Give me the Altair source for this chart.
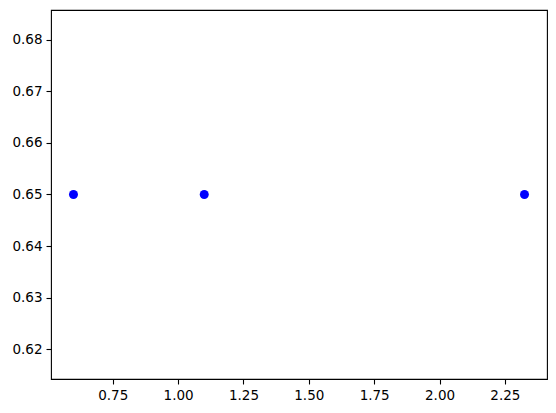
import altair as alt
import pandas as pd

xs = [0.6, 1.1, 2.325]
ys = [0.65, 0.65, 0.65]
x_ticks = [0.75, 1.00, 1.25, 1.50, 1.75, 2.00, 2.25]
y_ticks = [0.62, 0.63, 0.64, 0.65, 0.66, 0.67, 0.68]

df = pd.DataFrame({"x": xs, "y": ys})

axis_common = dict(
    grid=False,
    domain=False,
    ticks=True,
    tickColor="black",
    tickSize=5,
    tickWidth=1.1,
    labelColor="black",
    labelFont="DejaVu Sans",
    labelFontSize=13.5,
    labelPadding=4,
    format=".2f",
    title=None,
)

chart = (
    alt.Chart(df)
    .mark_point(filled=True, shape="circle", size=81, color="#0000ff", opacity=1)
    .encode(
        x=alt.X("x:Q", scale=alt.Scale(domain=[0.514, 2.411], nice=False, zero=False),
                axis=alt.Axis(values=x_ticks, labelFlush=False, **axis_common)),
        y=alt.Y("y:Q", scale=alt.Scale(domain=[0.61425, 0.68575], nice=False, zero=False),
                axis=alt.Axis(values=y_ticks, **axis_common)),
    )
    .properties(width=496, height=369, autosize=alt.AutoSizeParams(type="none"),
                padding={"left": 43, "top": 2, "right": 1, "bottom": 26},
                background="white")
    .configure_view(stroke="black", strokeWidth=1.1)
)

chart.save("out.html", embed_options={"renderer": "svg", "actions": False})
